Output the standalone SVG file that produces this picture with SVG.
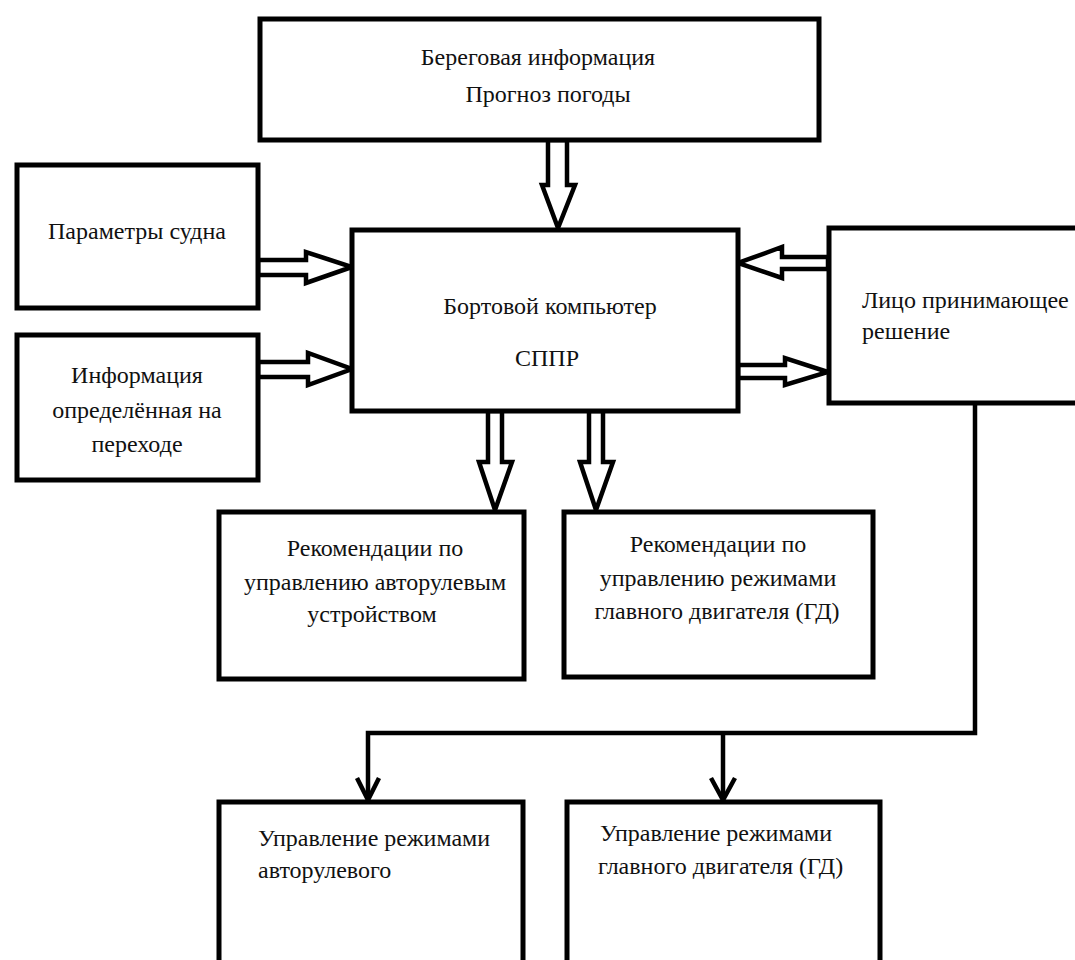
<svg xmlns="http://www.w3.org/2000/svg" width="1075" height="960" viewBox="0 0 1075 960">
<style>
.box{fill:#fff;stroke:#000;stroke-width:5}
.blk{fill:#fff;stroke:#000;stroke-width:4.5;stroke-linejoin:miter}
.ln{fill:none;stroke:#000;stroke-width:4.5}
.t{font-family:"Liberation Serif","Times New Roman",serif;font-size:24px;fill:#111}
.c{text-anchor:middle}
</style>
<rect width="1075" height="960" fill="#fff"/>
<g id="connectors">
<polygon class="blk" points="548,140 548,185 542,185 558,228 575,185 567,185 567,140"/>
<polygon class="blk" points="258,260 306,260 306,252 352,267 306,283 306,275 258,275"/>
<polygon class="blk" points="258,362 308,362 308,353 352,369 308,385 308,377 258,377"/>
<polygon class="blk" points="828,257 782,257 782,247 738,263 782,278 782,269 828,269"/>
<polygon class="blk" points="738,365 785,365 785,358 828,372 785,385 785,378 738,378"/>
<polygon class="blk" points="488,411 488,462 479,462 495,510 512,462 502,462 502,411"/>
<polygon class="blk" points="589,411 589,462 580,462 596,510 613,462 603,462 603,411"/>
<polyline class="ln" points="975,403 975,733 368,733 368,800"/>
<line class="ln" x1="723" y1="733" x2="723" y2="800"/>
<polyline class="ln" points="357,778 368,800 379,778"/>
<polyline class="ln" points="711,778 723,800 735,778"/>
</g>
<g id="n-top">
<rect class="box" x="260" y="19" width="559" height="121"/>
<text class="t c" x="538" y="65">Береговая информация</text>
<text class="t c" x="548" y="102">Прогноз погоды</text>
</g>
<g id="n-params">
<rect class="box" x="17" y="165" width="241" height="143"/>
<text class="t c" x="137" y="239">Параметры судна</text>
</g>
<g id="n-info">
<rect class="box" x="17" y="335" width="241" height="145"/>
<text class="t c" x="137" y="383">Информация</text>
<text class="t c" x="137" y="418">определённая на</text>
<text class="t c" x="137" y="452">переходе</text>
</g>
<g id="n-computer">
<rect class="box" x="352" y="230" width="386" height="181"/>
<text class="t c" x="550" y="314">Бортовой компьютер</text>
<text class="t c" x="547" y="366">СППР</text>
</g>
<g id="n-person">
<rect class="box" x="829" y="228" width="260" height="175"/>
<text class="t" x="862" y="308">Лицо принимающее</text>
<text class="t" x="862" y="339">решение</text>
</g>
<g id="n-rec-steer">
<rect class="box" x="219" y="512" width="305" height="167"/>
<text class="t c" x="375" y="556">Рекомендации по</text>
<text class="t c" x="375" y="590">управлению авторулевым</text>
<text class="t c" x="372" y="622">устройством</text>
</g>
<g id="n-rec-engine">
<rect class="box" x="564" y="512" width="309" height="165"/>
<text class="t c" x="718" y="552">Рекомендации по</text>
<text class="t c" x="718" y="586">управлению режимами</text>
<text class="t c" x="717" y="619">главного двигателя (ГД)</text>
</g>
<g id="n-ctl-steer">
<rect class="box" x="219" y="802" width="304" height="170"/>
<text class="t" x="258" y="846">Управление режимами</text>
<text class="t" x="258" y="878">авторулевого</text>
</g>
<g id="n-ctl-engine">
<rect class="box" x="567" y="802" width="313" height="170"/>
<text class="t" x="600" y="841">Управление режимами</text>
<text class="t" x="598" y="874">главного двигателя (ГД)</text>
</g>
</svg>
